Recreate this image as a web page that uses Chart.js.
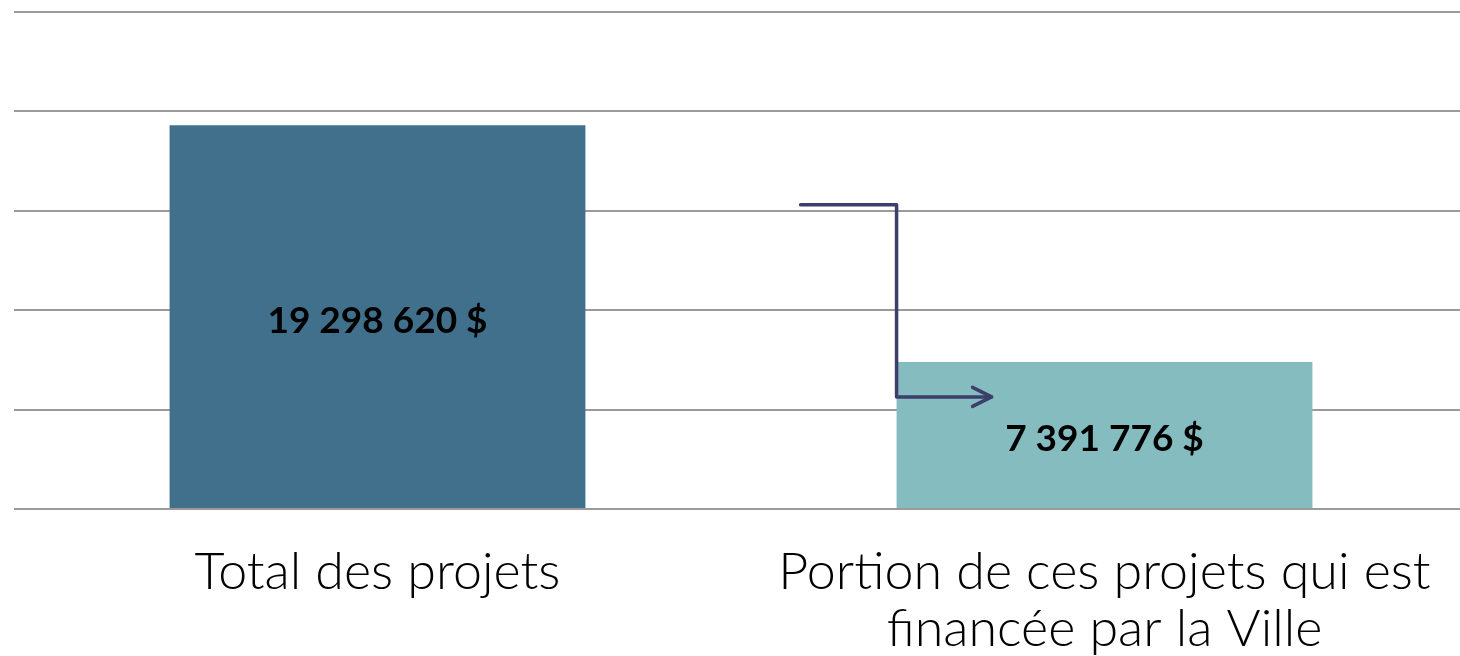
<!DOCTYPE html>
<html>
<head>
<meta charset="utf-8">
<script src="https://cdn.jsdelivr.net/npm/chart.js@4.4.1/dist/chart.umd.min.js"></script>
<style>
  html, body { margin: 0; padding: 0; overflow: hidden; background: #ffffff; }
  #wrap { position: absolute; left: 0; top: 0; width: 1468px; height: 656px; }
</style>
</head>
<body>
<div id="wrap"><canvas id="c"></canvas></div>
<script>
const categories = [
  'Total des projets',
  ['Portion de ces projets qui est', 'financée par la Ville']
];
const values = [19298620, 7391776];
const valueLabels = ['19 298 620 $', '7 391 776 $'];
const barColors = ['#41708d', '#84bcc0'];
const yTicks = [0, 5000000, 10000000, 15000000, 20000000, 25000000];

const FONT = 'Lato, "Open Sans", "DejaVu Sans", sans-serif';

const valueLabelPlugin = {
  id: 'valueLabels',
  afterDatasetsDraw(chart) {
    const ctx = chart.ctx;
    const meta = chart.getDatasetMeta(0);
    ctx.save();
    ctx.font = 'bold 37px ' + FONT;
    ctx.fillStyle = '#000000';
    ctx.textAlign = 'center';
    ctx.textBaseline = 'middle';
    meta.data.forEach((bar, i) => {
      const cy = (bar.y + bar.base) / 2 + 4;
      ctx.fillText(valueLabels[i], bar.x, cy);
    });
    ctx.restore();
  }
};

const arrowPlugin = {
  id: 'arrow',
  afterDraw(chart) {
    const ctx = chart.ctx;
    const meta = chart.getDatasetMeta(0);
    const bar = meta.data[1];
    const yScale = chart.scales.y;
    const left = bar.x - bar.width / 2;
    const x0 = left - 96, x1 = left, x2 = left + 95;
    const yTop = yScale.getPixelForValue(15300000);
    const yBot = yScale.getPixelForValue(5640000);
    ctx.save();
    ctx.strokeStyle = '#3d3f6b';
    ctx.lineWidth = 3.5;
    ctx.lineJoin = 'round';
    ctx.lineCap = 'round';
    ctx.beginPath();
    ctx.moveTo(x0, yTop);
    ctx.lineTo(x1, yTop);
    ctx.lineTo(x1, yBot);
    ctx.lineTo(x2, yBot);
    ctx.stroke();
    ctx.beginPath();
    ctx.moveTo(x2 - 19, yBot - 9.5);
    ctx.lineTo(x2, yBot);
    ctx.lineTo(x2 - 19, yBot + 9.5);
    ctx.stroke();
    ctx.restore();
  }
};

new Chart(document.getElementById('c'), {
  type: 'bar',
  data: {
    labels: categories,
    datasets: [{
      data: values,
      backgroundColor: barColors,
      borderWidth: 0,
      categoryPercentage: 1.0,
      barPercentage: 0.572
    }]
  },
  options: {
    responsive: true,
    maintainAspectRatio: false,
    animation: false,
    layout: { padding: { left: 14, top: 12, right: 0, bottom: 0 } },
    plugins: {
      legend: { display: false },
      tooltip: { enabled: false },
      title: { display: false }
    },
    scales: {
      x: {
        grid: { display: false, drawTicks: false },
        border: { display: false },
        ticks: {
          color: '#000000',
          font: { family: FONT, size: 52, weight: 300, lineHeight: 57 / 52 },
          padding: 35,
          maxRotation: 0,
          autoSkip: false
        },
        afterFit(scale) { scale.height = 147; }
      },
      y: {
        min: 0,
        max: 25000000,
        afterBuildTicks(scale) { scale.ticks = yTicks.map(v => ({ value: v })); },
        ticks: { display: false },
        grid: { color: '#9a9a9a', lineWidth: 2, drawTicks: false },
        border: { display: false },
        afterFit(scale) { scale.width = 0; }
      }
    }
  },
  plugins: [valueLabelPlugin, arrowPlugin]
});
</script>
</body>
</html>
